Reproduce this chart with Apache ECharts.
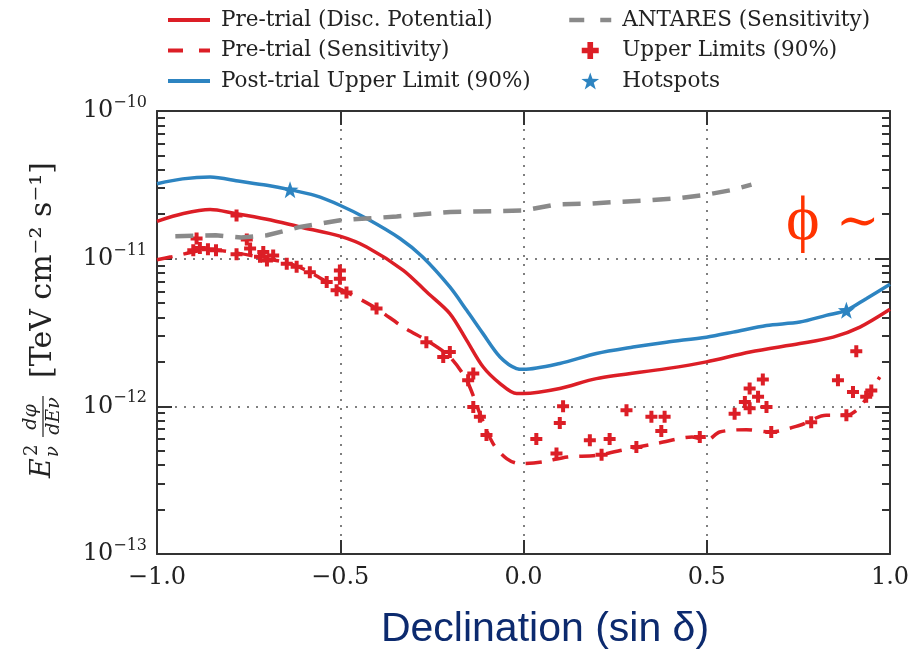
<!DOCTYPE html>
<html>
<head>
<meta charset="utf-8">
<script src="https://cdn.jsdelivr.net/npm/echarts@6/dist/echarts.min.js"></script>
<style>
  html, body { margin: 0; padding: 0; background: #fff; }
  #chart { width: 918px; height: 651px; }
</style>
</head>
<body>
<div id="chart"></div>
<script>
// sin(declination) vs E^2 dphi/dE  [TeV cm^-2 s^-1]
const postTrial = [
  [-1.0, 3.22e-11], [-0.93, 3.47e-11], [-0.855, 3.57e-11], [-0.774, 3.34e-11], [-0.70, 3.14e-11],
  [-0.637, 2.93e-11], [-0.57, 2.68e-11], [-0.501, 2.30e-11], [-0.428, 1.87e-11], [-0.337, 1.37e-11],
  [-0.275, 1.025e-11], [-0.201, 6.43e-12], [-0.155, 4.47e-12], [-0.111, 3.12e-12], [-0.064, 2.16e-12],
  [-0.019, 1.80e-12], [0.0, 1.78e-12], [0.099, 1.95e-12], [0.199, 2.28e-12], [0.299, 2.52e-12],
  [0.39, 2.72e-12], [0.499, 2.94e-12], [0.572, 3.18e-12], [0.663, 3.53e-12], [0.754, 3.72e-12],
  [0.826, 4.13e-12], [0.881, 4.47e-12], [0.935, 5.36e-12], [1.0, 6.7e-12]
]

const discPotential = [
  [-1.0, 1.79e-11], [-0.928, 2.02e-11], [-0.855, 2.15e-11], [-0.79, 2.03e-11], [-0.70, 1.85e-11],
  [-0.61, 1.64e-11], [-0.501, 1.42e-11], [-0.428, 1.20e-11], [-0.328, 8.34e-12], [-0.264, 5.94e-12],
  [-0.201, 4.25e-12], [-0.155, 2.80e-12], [-0.11, 1.845e-12], [-0.064, 1.426e-12], [-0.019, 1.22e-12],
  [0.0, 1.22e-12], [0.099, 1.32e-12], [0.199, 1.54e-12], [0.39, 1.80e-12], [0.499, 2.0e-12],
  [0.618, 2.33e-12], [0.754, 2.66e-12], [0.845, 2.94e-12], [0.918, 3.44e-12], [1.0, 4.54e-12]
]

const sensitivity = [
  [-1.0, 9.84e-12], [-0.964, 1.025e-11], [-0.855, 1.15e-11], [-0.78, 1.09e-11], [-0.70, 1.0e-11],
  [-0.637, 9.25e-12], [-0.583, 8.11e-12], [-0.52, 6.59e-12], [-0.474, 5.79e-12], [-0.401, 4.59e-12],
  [-0.328, 3.44e-12], [-0.256, 2.72e-12], [-0.201, 2.16e-12], [-0.155, 1.50e-12], [-0.119, 8.93e-13],
  [-0.083, 5.59e-13], [-0.046, 4.43e-13], [-0.01, 4.09e-13], [0.05, 4.2e-13], [0.12, 4.54e-13],
  [0.2, 4.66e-13], [0.29, 5.18e-13], [0.37, 5.65e-13], [0.46, 6.2e-13], [0.5, 5.89e-13],
  [0.535, 6.7e-13], [0.608, 6.95e-13], [0.672, 6.7e-13], [0.754, 7.44e-13], [0.826, 8.69e-13],
  [0.881, 8.69e-13], [0.918, 9.89e-13], [0.972, 1.58e-12]
]

const antares = [
  [-0.95, 1.42e-11], [-0.84, 1.44e-11], [-0.77, 1.39e-11], [-0.70, 1.44e-11], [-0.61, 1.64e-11],
  [-0.5, 1.82e-11], [-0.43, 1.87e-11], [-0.346, 1.93e-11], [-0.2, 2.07e-11], [0.0, 2.12e-11],
  [0.09, 2.33e-11], [0.18, 2.36e-11], [0.25, 2.42e-11], [0.34, 2.48e-11], [0.426, 2.57e-11],
  [0.499, 2.71e-11], [0.572, 2.93e-11], [0.622, 3.17e-11]
]

const upperLimits = [
  [-0.892, 1.37e-11], [-0.901, 1.14e-11], [-0.883, 1.18e-11], [-0.861, 1.16e-11], [-0.839, 1.14e-11],
  [-0.783, 1.07e-11], [-0.783, 1.96e-11], [-0.755, 1.35e-11], [-0.746, 1.17e-11], [-0.719, 1.03e-11],
  [-0.70, 9.7e-12], [-0.683, 1.05e-11], [-0.71, 1.11e-11], [-0.646, 9.25e-12], [-0.619, 8.8e-12],
  [-0.583, 8.1e-12], [-0.537, 6.95e-12], [-0.501, 8.3e-12], [-0.501, 7.3e-12], [-0.51, 6.1e-12],
  [-0.483, 5.9e-12], [-0.401, 4.6e-12], [-0.265, 2.72e-12], [-0.219, 2.16e-12], [-0.201, 2.33e-12],
  [-0.151, 1.50e-12], [-0.137, 1.67e-12], [-0.137, 9.9e-13], [-0.119, 8.5e-13], [-0.101, 6.4e-13],
  [0.035, 6.0e-13], [0.108, 1.0e-12], [0.099, 7.7e-13], [0.09, 4.8e-13], [0.281, 9.4e-13],
  [0.181, 5.9e-13], [0.235, 6.0e-13], [0.213, 4.7e-13], [0.308, 5.3e-13], [0.349, 8.5e-13],
  [0.385, 8.5e-13], [0.376, 6.8e-13], [0.481, 6.2e-13], [0.576, 8.9e-13], [0.604, 1.07e-12],
  [0.617, 1.32e-12], [0.653, 1.52e-12], [0.64, 1.16e-12], [0.617, 9.7e-13], [0.663, 9.9e-13],
  [0.676, 6.7e-13], [0.785, 7.8e-13], [0.858, 1.50e-12], [0.881, 8.7e-13], [0.899, 1.25e-12],
  [0.908, 2.36e-12], [0.935, 1.16e-12], [0.949, 1.28e-12]
]

const hotspots = [[-0.637, 2.93e-11], [0.881, 4.47e-12]]

const xTicks = { min: -1.0, max: 1.0, interval: 0.5 }
const yRange = { min: 1e-13, max: 1e-10 }

const RED = '#dc1e26'
const BLUE = '#2d84c1'
const GREY = '#8a8a8a'
const SERIF = 'DejaVu Serif'

const plusPath = 'path://M-1,-3H1V-1H3V1H1V3H-1V1H-3V-1H-1Z'
const starPath = 'path://M50,2 L62,36 L98,37 L69,58 L80,94 L50,73 L20,94 L31,58 L2,37 L38,36 Z'

const fmtX = v => (v < 0 ? '\u2212' : '') + Math.abs(v).toFixed(1)
const fmtY = v => '{a|10}{b|\u2212' + Math.round(-Math.log10(v)) + '}'

// legend: hide the marker on line entries, keep the line
const noMarker = { color: 'transparent', borderColor: 'transparent', borderWidth: 0, opacity: 0 }
const legendText = { fontFamily: SERIF, fontSize: 21.5, color: '#222', lineHeight: 24, padding: [0, 0, 0, 6] }

const chart = echarts.init(document.getElementById('chart'))
chart.setOption({
  animation: false,
  grid: { left: 157, right: 28, top: 111, bottom: 97 },
  legend: [{
    orient: 'vertical',
    left: 161,
    top: 3,
    itemWidth: 42,
    itemHeight: 14,
    itemGap: 6.5,
    textStyle: legendText,
    data: [
      { name: 'Pre-trial (Disc. Potential)', itemStyle: noMarker, lineStyle: { width: 4 } },
      { name: 'Pre-trial (Sensitivity)', itemStyle: noMarker, lineStyle: { width: 4, type: [15, 16] } },
      { name: 'Post-trial Upper Limit (90%)', itemStyle: noMarker, lineStyle: { width: 4 } }
    ]
  }, {
    orient: 'vertical',
    left: 562,
    top: 3,
    itemWidth: 42,
    itemHeight: 17,
    itemGap: 6.5,
    textStyle: legendText,
    data: [
      { name: 'ANTARES (Sensitivity)', itemStyle: noMarker, lineStyle: { width: 4.5, type: [15, 16] } },
      { name: 'Upper Limits (90%)' },
      { name: 'Hotspots' }
    ]
  }],
  xAxis: [{
    type: 'value',
    min: xTicks.min,
    max: xTicks.max,
    interval: xTicks.interval,
    axisLine: { onZero: false, lineStyle: { color: '#333', width: 2 } },
    axisTick: { inside: true, length: 14, lineStyle: { color: '#333', width: 2 } },
    axisLabel: { margin: 12, fontFamily: SERIF, fontSize: 24, color: '#222', formatter: fmtX },
    splitLine: { show: true, lineStyle: { color: '#555', type: [2, 7], width: 1.5 } }
  }, {
    type: 'value',
    position: 'top',
    min: xTicks.min,
    max: xTicks.max,
    interval: xTicks.interval,
    axisLine: { onZero: false, lineStyle: { color: '#333', width: 2 } },
    axisTick: { inside: true, length: 14, lineStyle: { color: '#333', width: 2 } },
    axisLabel: { show: false },
    splitLine: { show: false }
  }],
  yAxis: [{
    type: 'log',
    logBase: 10,
    min: yRange.min,
    max: yRange.max,
    axisLine: { show: true, onZero: false, lineStyle: { color: '#333', width: 2 } },
    axisTick: { inside: true, length: 15, lineStyle: { color: '#333', width: 2 } },
    minorTick: { show: true, splitNumber: 9, length: 8, lineStyle: { color: '#333', width: 2 } },
    axisLabel: {
      margin: 10,
      formatter: fmtY,
      rich: {
        a: { fontFamily: SERIF, fontSize: 24, color: '#222', lineHeight: 32 },
        b: { fontFamily: SERIF, fontSize: 16, color: '#222', lineHeight: 16, verticalAlign: 'top' }
      }
    },
    splitLine: { show: true, lineStyle: { color: '#555', type: [2, 7], width: 1.5 } }
  }, {
    type: 'log',
    logBase: 10,
    position: 'right',
    min: yRange.min,
    max: yRange.max,
    axisLine: { show: true, onZero: false, lineStyle: { color: '#333', width: 2 } },
    axisTick: { inside: true, length: 15, lineStyle: { color: '#333', width: 2 } },
    minorTick: { show: true, splitNumber: 9, length: 8, lineStyle: { color: '#333', width: 2 } },
    axisLabel: { show: false },
    splitLine: { show: false }
  }],
  series: [{
    name: 'Pre-trial (Sensitivity)',
    type: 'line',
    symbol: 'none',
    smooth: 0.3,
    color: RED,
    lineStyle: { color: RED, width: 3.5, type: [16, 11] },
    data: sensitivity
  }, {
    name: 'Pre-trial (Disc. Potential)',
    type: 'line',
    symbol: 'none',
    smooth: 0.3,
    color: RED,
    lineStyle: { color: RED, width: 3.5 },
    data: discPotential
  }, {
    name: 'Post-trial Upper Limit (90%)',
    type: 'line',
    symbol: 'none',
    smooth: 0.3,
    color: BLUE,
    lineStyle: { color: BLUE, width: 3.5 },
    data: postTrial
  }, {
    name: 'ANTARES (Sensitivity)',
    type: 'line',
    symbol: 'none',
    color: GREY,
    lineStyle: { color: GREY, width: 4.5, type: [18, 12] },
    data: antares
  }, {
    name: 'Upper Limits (90%)',
    type: 'scatter',
    symbol: plusPath,
    symbolSize: 12,
    itemStyle: { color: RED, opacity: 1 },
    data: upperLimits
  }, {
    name: 'Hotspots',
    type: 'scatter',
    symbol: starPath,
    symbolSize: 17,
    itemStyle: { color: BLUE, opacity: 1 },
    data: hotspots
  }],
  graphic: [{
    type: 'group',
    x: 56,
    y: 478,
    rotation: Math.PI / 2,
    children: [
      { type: 'text', x: 0, y: 0, style: { text: 'E', fontFamily: SERIF, fontStyle: 'italic', fontSize: 27, fill: '#222', verticalAlign: 'bottom' } },
      { type: 'text', x: 22, y: -15, style: { text: '2', fontFamily: SERIF, fontSize: 18, fill: '#222', verticalAlign: 'bottom' } },
      { type: 'text', x: 21, y: 6, style: { text: '\u03bd', fontFamily: SERIF, fontStyle: 'italic', fontSize: 18, fill: '#222', verticalAlign: 'bottom' } },
      { type: 'text', x: 61, y: -15, style: { text: 'd\u03c6', fontFamily: SERIF, fontStyle: 'italic', fontSize: 19, fill: '#222', align: 'center', verticalAlign: 'bottom' } },
      { type: 'line', shape: { x1: 41, y1: -13, x2: 82, y2: -13 }, style: { stroke: '#222', lineWidth: 1.2 } },
      { type: 'text', x: 62, y: 8, style: { text: 'dE\u03bd', fontFamily: SERIF, fontStyle: 'italic', fontSize: 19, fill: '#222', align: 'center', verticalAlign: 'bottom' } },
      { type: 'text', x: 100, y: 2, style: { text: '[TeV cm\u207b\u00b2 s\u207b\u00b9]', fontFamily: SERIF, fontSize: 30, fill: '#222', verticalAlign: 'bottom' } }
    ]
  }, {
    type: 'text',
    x: 545,
    y: 630,
    style: { text: 'Declination (sin \u03b4)', fontFamily: 'Liberation Sans', fontSize: 41, fill: '#0c2a6e', align: 'center', verticalAlign: 'middle' }
  }, {
    type: 'text',
    x: 786,
    y: 222,
    style: { text: '\u03d5', fontFamily: 'Liberation Serif, DejaVu Serif', fontSize: 64, fill: '#ff3300', verticalAlign: 'middle' }
  }, {
    type: 'text',
    x: 836,
    y: 224,
    style: { text: '\u223c', fontFamily: 'Liberation Serif, DejaVu Serif', fontSize: 52, fill: '#ff3300', verticalAlign: 'middle' }
  }]
})
</script>
</body>
</html>
